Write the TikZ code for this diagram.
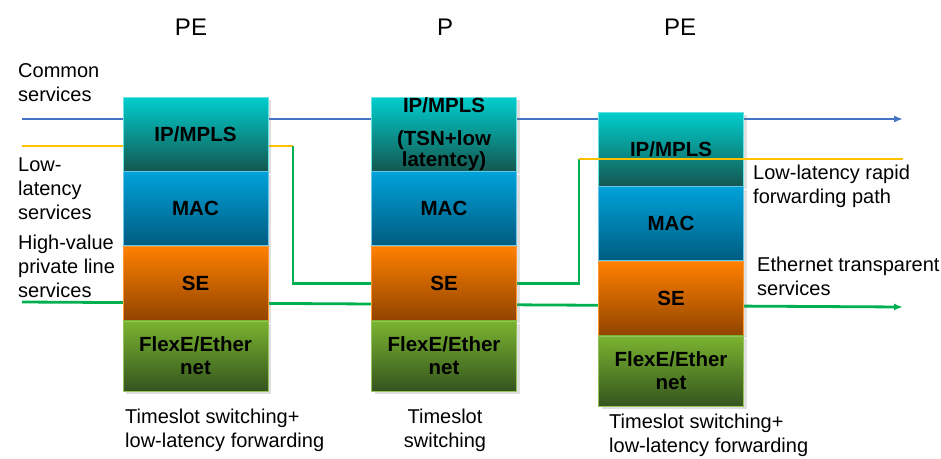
\documentclass[tikz,border=0pt]{standalone}
\usepackage{fontspec}
\setmainfont{Liberation Sans}
\usetikzlibrary{arrows.meta,positioning,shadows}
\pgfdeclarelayer{background}
\pgfsetlayers{background,main}
\definecolor{lineblue}{RGB}{68,114,196}
\definecolor{lineyellow}{RGB}{255,192,0}
\definecolor{linegreen}{RGB}{0,176,80}
\definecolor{iptop}{RGB}{0,206,206}
\definecolor{ipbot}{RGB}{20,88,80}
\definecolor{mactop}{RGB}{0,162,218}
\definecolor{macbot}{RGB}{0,92,128}
\definecolor{setop}{RGB}{255,128,0}
\definecolor{sebot}{RGB}{145,68,0}
\definecolor{flextop}{RGB}{122,180,48}
\definecolor{flexbot}{RGB}{52,84,30}
\tikzset{%
  >={Latex[width=7pt,length=9pt]},
  % Specifications for style of nodes:
            base/.style = {rectangle, draw, line width=0.8pt,
                           minimum width=145pt, minimum height=73.8pt,
                           text centered, align=center, inner sep=0pt,
                           font=\bfseries\fontsize{20.5}{23}\selectfont,
                           drop shadow={shadow xshift=3pt, shadow yshift=-3pt, opacity=0.25}},
         ipbox/.style = {base, draw=iptop!60, top color=iptop, bottom color=ipbot},
        macbox/.style = {base, draw=mactop!60, top color=mactop, bottom color=macbot},
         sebox/.style = {base, draw=setop!80, top color=setop, bottom color=sebot},
       flexbox/.style = {base, minimum height=70.5pt, draw=flextop!80,
                           top color=flextop, bottom color=flexbot},
           lbl/.style = {inner sep=0pt, align=left, font=\fontsize{20}{24}\selectfont},
         title/.style = {inner sep=0pt, font=\fontsize{24}{28}\selectfont},
}

\begin{document}
\begin{tikzpicture}[x=1pt, y=-1pt, node distance=0pt,
    blueline/.style={draw=lineblue, line width=2.8pt},
    yellowline/.style={draw=lineyellow, line width=2.8pt},
    greenline/.style={draw=linegreen, line width=2.8pt}]
  \useasboundingbox (0,0) rectangle (941,458);

  % Titles
  \node (pe1)   [title] at (191,27) {PE};
  \node (p)     [title] at (445,27) {P};
  \node (pe2)   [title] at (680,27) {PE};

  % Left PE stack
  \node (ip1)   [ipbox] at (195.5,134) {IP/MPLS};
  \node (mac1)  [macbox, below=of ip1] {MAC};
  \node (se1)   [sebox, below=of mac1] {SE};
  \node (flex1) [flexbox, below=of se1] {FlexE/Ether\\net};

  % Middle P stack
  \node (ip2)   [ipbox] at (444,134) {IP/MPLS\\[10pt](TSN+low\\[-2pt]latentcy)};
  \node (mac2)  [macbox, below=of ip2] {MAC};
  \node (se2)   [sebox, below=of mac2] {SE};
  \node (flex2) [flexbox, below=of se2] {FlexE/Ether\\net};

  % Right PE stack
  \node (ip3)   [ipbox] at (671,149) {IP/MPLS};
  \node (mac3)  [macbox, below=of ip3] {MAC};
  \node (se3)   [sebox, below=of mac3] {SE};
  \node (flex3) [flexbox, below=of se3] {FlexE/Ether\\net};

  % Service labels
  \node (common)  [lbl, anchor=north west] at (18,63) {Common\\services};
  \node (lowlat)  [lbl, anchor=north west] at (18,158) {Low-\\latency\\services};
  \node (highval) [lbl, anchor=north west] at (18,235) {High-value\\private line\\services};
  \node (rapid)   [lbl, anchor=north west] at (753,165) {Low-latency rapid\\forwarding path};
  \node (ether)   [lbl, anchor=north west] at (757,257) {Ethernet transparent\\services};

  % Bottom labels
  \node (sw1) [lbl, anchor=north west] at (125,409) {Timeslot switching+\\low-latency forwarding};
  \node (sw2) [lbl, anchor=north, align=center] at (445,409) {Timeslot\\switching};
  \node (sw3) [lbl, anchor=north west] at (609,414) {Timeslot switching+\\low-latency forwarding};

  % Paths
  \coordinate (bin)   at (22,119);
  \coordinate (bout)  at (903,119);
  \coordinate (gin)   at (22,302);
  \coordinate (gout)  at (903,307);
  \coordinate (yin)   at (22,146);
  \coordinate (yturn) at (293,146);
  \coordinate (yup)   at (579,159);
  \coordinate (yout)  at (903,159);

  \begin{pgfonlayer}{background}
    \draw[blueline, ->]  (bin) -- (bout);
    \draw[greenline, ->] (gin) -- (gout);
    \draw[yellowline]    (yin) -- (yturn);
    \draw[greenline]     (yturn) |- (se2.west);
    \draw[greenline]     (se2.east) -| (yup);
  \end{pgfonlayer}
  \draw[yellowline]      (yup) -- (yout);

\end{tikzpicture}
\end{document}
